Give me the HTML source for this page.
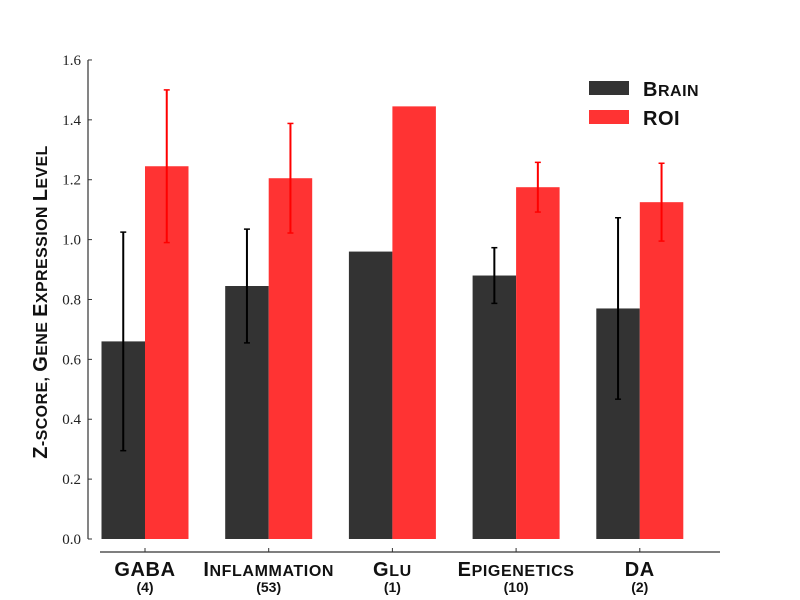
<!DOCTYPE html>
<html><head><meta charset="utf-8"><style>body{margin:0;background:#fff}svg{display:block}</style></head>
<body>
<svg id="chart" width="800" height="600" xmlns="http://www.w3.org/2000/svg" font-family="Liberation Sans, sans-serif"></svg>
<script>
const categories=["GABA","Inflammation","Glu","Epigenetics","DA"];
const counts=["(4)","(53)","(1)","(10)","(2)"];
const brainValues=[0.66,0.845,0.96,0.88,0.77];
const brainErr=[0.365,0.19,0,0.093,0.303];
const roiValues=[1.245,1.205,1.445,1.175,1.125];
const roiErr=[0.255,0.183,0,0.083,0.13];
const yTicks=[0,0.2,0.4,0.6,0.8,1.0,1.2,1.4,1.6];
const ns="http://www.w3.org/2000/svg";
const svg=document.getElementById('chart');
const y=v=>539-v*299.4;
const cx=i=>145+i*123.7;
const bw=43.5;
function el(t,a,p){const e=document.createElementNS(ns,t);for(const k in a)e.setAttribute(k,a[k]);(p||svg).appendChild(e);return e;}
let s=el('line',{x1:88,y1:y(0),x2:88,y2:y(1.6),stroke:'#333','stroke-width':1.2});


s=el('line',{x1:100,y1:552,x2:720,y2:552,stroke:'#333','stroke-width':1.2});


yTicks.forEach(v=>{
 el('line',{x1:88,y1:y(v),x2:92,y2:y(v),stroke:'#333'});
 const t=el('text',{x:81,y:y(v)+5,'text-anchor':'end','font-family':'Liberation Serif, serif','font-size':15,fill:'#222'});
 t.textContent=v.toFixed(1);
 
 
});
function smallcaps(t,str,big,small){
 const first=str[0],rest=str.slice(1).toUpperCase();
 const a=el('tspan',{'font-size':big},t);a.textContent=first.toUpperCase();
 const b=el('tspan',{'font-size':small},t);b.textContent=rest;
}
categories.forEach((c,i)=>{
 const x0=cx(i);
 let r=el('rect',{x:x0-bw,y:y(brainValues[i]),width:bw,height:y(0)-y(brainValues[i]),fill:'#333333'});
 
 
 r=el('rect',{x:x0,y:y(roiValues[i]),width:bw,height:y(0)-y(roiValues[i]),fill:'#ff3333'});
 
 
 if(brainErr[i]>0){
  const m=x0-bw/2;
  let e=el('line',{x1:m,x2:m,y1:y(brainValues[i]-brainErr[i]),y2:y(brainValues[i]+brainErr[i]),stroke:'#000','stroke-width':2});
  
  
  el('line',{x1:m-3,x2:m+3,y1:y(brainValues[i]-brainErr[i]),y2:y(brainValues[i]-brainErr[i]),stroke:'#000','stroke-width':1.5});
  el('line',{x1:m-3,x2:m+3,y1:y(brainValues[i]+brainErr[i]),y2:y(brainValues[i]+brainErr[i]),stroke:'#000','stroke-width':1.5});
 }
 if(roiErr[i]>0){
  const m=x0+bw/2;
  let e=el('line',{x1:m,x2:m,y1:y(roiValues[i]-roiErr[i]),y2:y(roiValues[i]+roiErr[i]),stroke:'#ff0000','stroke-width':2});
  
  
  el('line',{x1:m-3,x2:m+3,y1:y(roiValues[i]-roiErr[i]),y2:y(roiValues[i]-roiErr[i]),stroke:'#ff0000','stroke-width':1.5});
  el('line',{x1:m-3,x2:m+3,y1:y(roiValues[i]+roiErr[i]),y2:y(roiValues[i]+roiErr[i]),stroke:'#ff0000','stroke-width':1.5});
 }
 el('line',{x1:x0,x2:x0,y1:552,y2:548,stroke:'#333'});
 const t=el('text',{x:x0,y:576,'text-anchor':'middle','font-weight':'bold',fill:'#111','letter-spacing':0.6});
 if(c==="GABA"||c==="DA"){t.setAttribute('font-size',20);t.textContent=c;}else smallcaps(t,c,20,16);
 
 
 const n=el('text',{x:x0,y:592,'text-anchor':'middle','font-weight':'bold','font-size':14,fill:'#111'});
 n.textContent=counts[i];
 
 
});
const yl=el('text',{x:0,y:0,transform:'translate(47,302) rotate(-90)','text-anchor':'middle','font-weight':'bold',fill:'#111','letter-spacing':0.4});
[['Z','-SCORE, '],['G','ENE '],['E','XPRESSION '],['L','EVEL']].forEach(p=>{
 const a=el('tspan',{'font-size':20},yl);a.textContent=p[0];
 const b=el('tspan',{'font-size':16},yl);b.textContent=p[1];
});


const leg=[['Brain','#333333',81],['ROI','#ff3333',110]];
leg.forEach(l=>{
 const g=el('g',{});
 
 
 el('rect',{x:589,y:l[2],width:40,height:14,fill:l[1]},g);
 const t=el('text',{x:643,y:l[2]+15,'font-weight':'bold',fill:'#111','letter-spacing':0.5},g);
 if(l[0]==='ROI'){t.setAttribute('font-size',20);t.textContent='ROI';}else smallcaps(t,l[0],20,16);
});
</script>
</body></html>
